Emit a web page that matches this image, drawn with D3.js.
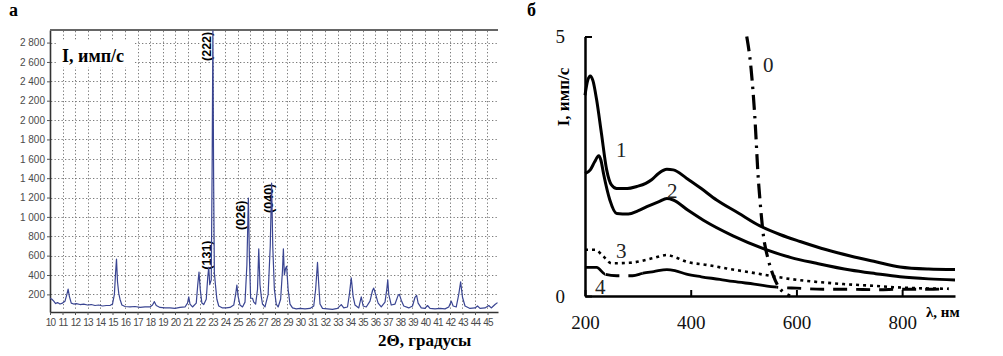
<!DOCTYPE html>
<html><head><meta charset="utf-8">
<script src="https://cdn.jsdelivr.net/npm/d3@7"></script>
<style>body{margin:0;background:#fff;} svg{display:block}</style>
</head><body>
<svg id="c" width="1003" height="356"></svg>
<script>
// ---------- Panel а : XRD pattern ----------
const xrdAngle = [10.00,10.15,10.30,10.45,10.60,10.80,11.00,11.20,11.35,11.45,11.55,11.70,11.90,12.10,12.40,12.70,13.00,13.30,13.60,13.90,14.20,14.50,14.80,15.00,15.15,15.25,15.32,15.40,15.50,15.60,15.75,16.00,16.40,16.80,17.20,17.60,18.00,18.20,18.35,18.50,18.80,19.20,19.60,20.00,20.40,20.80,21.00,21.10,21.20,21.40,21.70,21.82,21.92,22.02,22.15,22.30,22.50,22.62,22.70,22.78,22.90,22.97,23.03,23.09,23.15,23.25,23.35,23.50,23.80,24.10,24.40,24.70,24.85,24.95,25.05,25.20,25.40,25.60,25.75,25.87,25.95,26.05,26.20,26.30,26.45,26.60,26.70,26.80,26.90,27.00,27.20,27.45,27.62,27.73,27.82,27.95,28.10,28.25,28.45,28.60,28.67,28.75,28.85,28.93,29.05,29.20,29.40,29.70,30.00,30.40,30.80,31.10,31.25,31.40,31.50,31.60,31.80,32.20,32.60,33.00,33.30,33.50,33.80,33.95,34.10,34.25,34.40,34.70,34.90,35.05,35.30,35.60,35.80,35.90,36.05,36.25,36.50,36.80,36.95,37.02,37.10,37.30,37.60,37.85,37.95,38.10,38.30,38.70,39.00,39.20,39.33,39.45,39.70,40.00,40.20,40.40,40.80,41.20,41.60,41.90,42.10,42.25,42.50,42.70,42.85,43.00,43.20,43.60,44.00,44.20,44.40,44.80,45.10,45.30,45.60,45.80];
const xrdCounts = [160,150,130,105,115,100,110,130,200,255,180,110,100,105,95,100,90,95,85,90,80,85,85,100,200,430,565,330,210,150,90,75,70,75,65,70,70,90,125,85,65,60,60,55,65,70,110,175,100,70,110,300,430,250,110,95,150,380,480,300,350,1500,2920,1400,420,280,150,80,60,60,65,90,200,295,180,90,70,120,500,1195,600,160,160,120,100,250,670,300,180,100,70,200,700,1350,700,250,100,70,150,450,670,400,470,490,250,100,60,50,55,50,55,80,250,530,300,100,55,50,45,55,95,60,70,200,370,180,90,60,175,80,70,130,240,265,200,110,70,120,260,350,200,90,100,190,200,140,80,60,80,170,190,110,60,55,85,55,50,55,50,70,130,80,70,200,330,170,80,55,60,80,55,60,85,60,95,115];
const xrdXTicks = [10,11,12,13,14,15,16,17,18,19,20,21,22,23,24,25,26,27,28,29,30,31,32,33,34,35,36,37,38,39,40,41,42,43,44,45];
const xrdYTicks = [200,400,600,800,1000,1200,1400,1600,1800,2000,2200,2400,2600,2800];
const peakNames = ["(222)","(131)","(026)","(040)"];
const peakAngle = [22.54,22.54,25.26,27.46];
const peakCount = [2610,455,866,1041];

// ---------- Panel б : spectra ----------
const curve0Lambda = [506,514,521,528,531,537,547,556,566,577,588];
const curve0I      = [5.0,4.4,3.5,2.24,1.85,1.21,0.69,0.40,0.18,0.06,0.0];
const curve1Lambda = [200,205,210,215,222,231,241,250,260,280,298,315,326,339,355,367,392,420,449,490,531,570,607,657,702,750,796,850,900];
const curve1I      = [3.87,4.15,4.24,4.15,3.78,3.14,2.43,2.14,2.07,2.07,2.11,2.17,2.24,2.36,2.44,2.43,2.27,2.07,1.85,1.60,1.35,1.18,1.05,0.89,0.77,0.66,0.56,0.52,0.51];
const curve2Lambda = [200,210,218,226,230,235,247,260,282,300,317,340,355,367,395,424,480,544,590,638,702,750,796,850,900];
const curve2I      = [2.36,2.43,2.58,2.70,2.62,2.36,1.85,1.59,1.58,1.64,1.72,1.82,1.88,1.85,1.65,1.46,1.16,0.89,0.74,0.63,0.50,0.43,0.37,0.33,0.31];
const curve3Lambda = [200,219,235,250,285,329,355,370,392,430,468,510,550,594,640,689,740,784,830,888];
const curve3I      = [0.89,0.89,0.76,0.63,0.64,0.73,0.79,0.75,0.66,0.60,0.53,0.46,0.39,0.32,0.27,0.23,0.20,0.17,0.15,0.14];
const curve4Lambda = [200,222,238,260,290,310,330,355,370,392,420,455,480,520,563,600,650,700,750,800,850,888];
const curve4I      = [0.55,0.55,0.42,0.39,0.39,0.44,0.47,0.51,0.49,0.42,0.37,0.32,0.28,0.23,0.17,0.15,0.13,0.13,0.12,0.13,0.13,0.14];
const specXTicks = [200,400,600,800];
const specYTicks = [0,5];
const curveNames = ["0","1","2","3","4"];

const svg = d3.select("#c");
const serif = "'Liberation Serif','Times New Roman',serif";
const sans = "'Liberation Sans',Arial,sans-serif";

// ===== Panel а =====
const xA = d3.scaleLinear().domain([10, 45.84]).range([50, 498]);
const yA = d3.scaleLinear().domain([18, 2930]).range([312, 30]);
const gA = svg.append("g");
const px = v => Math.round(v) + 0.5;

gA.append("g").selectAll("line").data(xrdXTicks.filter(d => d > 10)).join("line")
  .attr("x1", d => px(xA(d))).attr("x2", d => px(xA(d)))
  .attr("y1", 31).attr("y2", 311)
  .attr("stroke", "#7a7a7a").attr("stroke-width", 1).attr("stroke-dasharray", "1.3,2.2");
gA.append("g").selectAll("line").data(xrdYTicks).join("line")
  .attr("x1", 51).attr("x2", 498)
  .attr("y1", d => px(yA(d))).attr("y2", d => px(yA(d)))
  .attr("stroke", "#7a7a7a").attr("stroke-width", 1).attr("stroke-dasharray", "1.3,2.2");

const fmtLoc = d3.formatLocale({decimal: ".", thousands: " ", grouping: [3], currency: ["", ""]});
const fmtA = fmtLoc.format(",d");

const axYA = gA.append("g").attr("transform", "translate(50,0)")
  .call(d3.axisLeft(yA).tickValues(xrdYTicks).tickSize(3).tickSizeOuter(0).tickPadding(2).tickFormat(fmtA));
const axXA = gA.append("g").attr("transform", "translate(0,312)")
  .call(d3.axisBottom(xA).tickValues(xrdXTicks).tickSize(3).tickSizeOuter(0).tickPadding(4));
[axYA, axXA].forEach(ax => {
  ax.select(".domain").attr("stroke", "#333").attr("stroke-width", 1.6);
  ax.selectAll(".tick line").attr("stroke", "#555");
  ax.selectAll("text").attr("fill", "#4a4a4a").style("font-family", sans).style("font-size", "10px");
});
axXA.selectAll("text").style("letter-spacing", "-0.7px").style("font-size", "10px");

gA.append("line").attr("x1", 50).attr("x2", 498).attr("y1", 30).attr("y2", 30)
  .attr("stroke", "#666").attr("stroke-width", 2);

// axis title box
gA.append("rect").attr("x", 58).attr("y", 40).attr("width", 76).attr("height", 27).attr("fill", "#fff");
gA.append("text").attr("x", 62).attr("y", 62).text("I, имп/с")
  .style("font-family", serif).style("font-weight", "bold").style("font-size", "18px");

// peak labels
peakNames.forEach((n, i) => {
  const g = gA.append("g").attr("transform", `translate(${xA(peakAngle[i])},${yA(peakCount[i])}) rotate(-90)`);
  g.append("rect").attr("x", -1).attr("y", -7).attr("width", 31).attr("height", 14).attr("fill", "#fff");
  g.append("text").attr("x", 0).attr("y", 0).attr("dy", "0.36em").text(n)
    .style("font-family", sans).style("font-weight", "bold").style("font-size", "12.5px");
});

svg.append("clipPath").attr("id", "clipA").append("rect")
  .attr("x", 50).attr("y", 29).attr("width", 449).attr("height", 283);

const xrdData = xrdAngle.map((a, i) => [a, xrdCounts[i]]);
gA.append("path").datum(xrdData).attr("clip-path", "url(#clipA)")
  .attr("d", d3.line().x(d => xA(d[0])).y(d => yA(d[1])))
  .attr("fill", "none").attr("stroke", "#3a4592").attr("stroke-width", 1.2).attr("stroke-linejoin", "round");

svg.append("text").attr("x", 9).attr("y", 16).text("а")
  .style("font-family", serif).style("font-weight", "bold").style("font-size", "18px");
svg.append("text").attr("x", 378).attr("y", 346).text("2Θ, градусы")
  .style("font-family", serif).style("font-weight", "bold").style("font-size", "17px");

// ===== Panel б =====
const xB = d3.scaleLinear().domain([200, 900]).range([585, 955]);
const yB = d3.scaleLinear().domain([0, 5]).range([296, 36.5]);
const gB = svg.append("g");

const axXB = gB.append("g").attr("transform", "translate(0,296)")
  .call(d3.axisBottom(xB).tickValues(specXTicks).tickSize(-6).tickSizeOuter(0).tickPadding(20).tickFormat(d3.format("d")));
const axYB = gB.append("g").attr("transform", "translate(585,0)")
  .call(d3.axisLeft(yB).tickValues(specYTicks).tickSize(-7).tickSizeOuter(0).tickPadding(20).tickFormat(d3.format("d")));
[axXB, axYB].forEach(ax => {
  ax.select(".domain").attr("stroke", "#000").attr("stroke-width", 2.5);
  ax.selectAll(".tick line").attr("stroke", "#000").attr("stroke-width", 2);
  ax.selectAll("text").attr("fill", "#111").style("font-family", serif).style("font-size", "19px");
});

const lineB = d3.line().x(d => xB(d[0])).y(d => yB(d[1])).curve(d3.curveMonotoneX);
const zipB = (l, v) => l.map((x, i) => [x, v[i]]);

// curve 1 & 2 solid
[[curve1Lambda, curve1I], [curve2Lambda, curve2I]].forEach(([l, v]) => {
  gB.append("path").datum(zipB(l, v)).attr("d", lineB)
    .attr("fill", "none").attr("stroke", "#000").attr("stroke-width", 3).attr("stroke-linejoin", "round");
});
// curve 3 dotted
gB.append("path").datum(zipB(curve3Lambda, curve3I)).attr("d", lineB)
  .attr("fill", "none").attr("stroke", "#000").attr("stroke-width", 2.6).attr("stroke-dasharray", "3,4");
// curve 4: solid and dashed parts
const dashRanges = [[238, 312], [563, 900]];
const solidRanges = [[200, 238], [312, 563]];
solidRanges.forEach((r, i) => {
  svg.append("clipPath").attr("id", "cs" + i).append("rect")
    .attr("x", xB(r[0]) - 2).attr("y", 0).attr("width", xB(r[1]) - xB(r[0]) + 2).attr("height", 356);
  gB.append("path").datum(zipB(curve4Lambda, curve4I)).attr("d", lineB).attr("clip-path", `url(#cs${i})`)
    .attr("fill", "none").attr("stroke", "#000").attr("stroke-width", 2.8);
});
dashRanges.forEach((r, i) => {
  svg.append("clipPath").attr("id", "cd" + i).append("rect")
    .attr("x", xB(r[0])).attr("y", 0).attr("width", xB(r[1]) - xB(r[0])).attr("height", 356);
  gB.append("path").datum(zipB(curve4Lambda, curve4I)).attr("d", lineB).attr("clip-path", `url(#cd${i})`)
    .attr("fill", "none").attr("stroke", "#000").attr("stroke-width", 2.8).attr("stroke-dasharray", "14,9");
});
// curve 0 dash-dot
gB.append("path").datum(zipB(curve0Lambda, curve0I)).attr("d", lineB)
  .attr("fill", "none").attr("stroke", "#000").attr("stroke-width", 3.2).attr("stroke-dasharray", "15,6,2.5,6");

// curve number labels
const labelPos = [[763, 72], [616, 157], [667, 198], [616, 258], [595, 294]];
curveNames.forEach((n, i) => {
  gB.append("text").attr("x", labelPos[i][0]).attr("y", labelPos[i][1]).text(n)
    .attr("fill", "#222").style("font-family", serif).style("font-size", "21px");
});

gB.append("text").attr("transform", "translate(569,97) rotate(-90)").attr("text-anchor", "middle").text("I, имп/с")
  .style("font-family", serif).style("font-weight", "bold").style("font-size", "17px");
gB.append("text").attr("x", 926).attr("y", 317).text("λ, нм")
  .style("font-family", serif).style("font-weight", "bold").style("font-size", "15px");
svg.append("text").attr("x", 527).attr("y", 16).text("б")
  .style("font-family", serif).style("font-weight", "bold").style("font-size", "18px");
</script>
</body></html>
